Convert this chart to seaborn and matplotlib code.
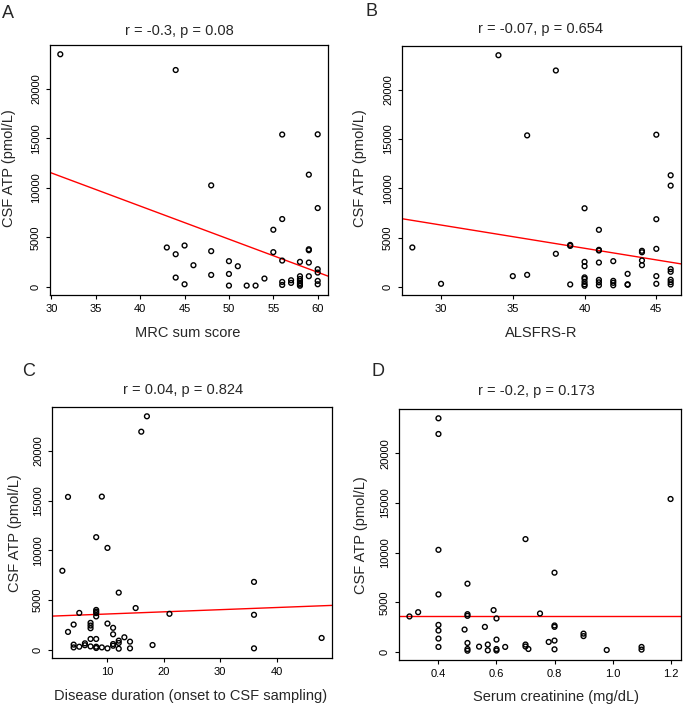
import matplotlib
matplotlib.use("Agg")
import matplotlib.pyplot as plt
import seaborn as sns
import numpy as np
import pandas as pd

# ---------------- data ----------------
mrc = [31, 44, 56, 60, 59, 48, 60, 56, 55,
       43, 44, 45, 48, 46, 50, 51, 44, 48, 50, 45, 50, 52, 53, 54,
       55, 56, 56, 56, 57, 57, 58, 58, 58, 58, 58, 58, 58, 59, 59, 59, 59, 60, 60, 60, 60]
atp_mrc = [23480, 21890, 15380, 15400, 11330, 10250, 7960, 6850, 5770,
           3980, 3300, 4180, 3610, 2190, 2600, 2090, 945, 1210, 1310, 270, 135, 135, 135, 845,
           3510, 2660, 505, 200, 675, 405, 2530, 1080, 800, 600, 400, 250, 120, 3800, 3700, 2460, 1080, 1790, 1450, 610, 270]

alsfrs = [34, 38, 36, 45, 46, 46, 40, 45, 41,
          28, 39, 39, 38, 30, 35, 36, 39,
          40, 40, 40, 40, 40, 40, 40,
          41, 41, 41, 41, 41, 41,
          42, 42, 42, 42,
          43, 43, 43,
          44, 44, 44, 44,
          45, 45, 45,
          46, 46, 46, 46, 46]
atp_alsfrs = [23510, 21960, 15370, 15440, 11320, 10270, 7970, 6860, 5780,
              3990, 4250, 4150, 3345, 300, 1080, 1210, 235,
              2530, 2090, 950, 800, 500, 250, 100,
              3750, 3680, 2460, 700, 450, 150,
              2600, 600, 400, 150,
              1310, 250, 200,
              3650, 3500, 2670, 2190,
              3850, 1080, 300,
              1790, 1520, 710, 470, 230]

duration = [17, 16, 3, 9, 8, 10, 2, 36, 12, 15, 5,
            8, 8, 8, 8,
            21, 3, 4, 7, 7, 7,
            10, 11, 11, 7, 8, 13, 14, 12, 12,
            11, 11, 4, 4, 5, 6, 6, 7, 8, 8,
            9, 10, 12, 14, 18,
            36, 36, 48]
atp_duration = [23480, 21930, 15370, 15400, 11320, 10240, 7940, 6820, 5740, 4190, 3700,
                4000, 3830, 3680, 3345,
                3610, 1790, 2530, 2700, 2430, 2160,
                2630, 2200, 1550, 1080, 1080, 1250, 810, 910, 680,
                570, 400, 510, 230, 300, 640, 450, 330, 300, 170,
                230, 135, 100, 135, 470,
                3510, 135, 1180]

creatinine = [0.4, 0.4, 0.4, 0.4, 0.4, 0.4, 0.4, 0.4,
              1.2, 0.7, 0.8, 0.5, 0.59, 0.33, 0.30, 0.5, 0.5, 0.6, 0.75,
              0.49, 0.5, 0.5, 0.5, 0.54, 0.56, 0.57, 0.57, 0.6, 0.6, 0.6, 0.63, 0.7, 0.7, 0.71,
              0.78, 0.8, 0.8, 0.8, 0.8, 0.9, 0.9, 0.98, 1.1, 1.1]
atp_creat = [23540, 21960, 10290, 5800, 2730, 2160, 1350, 510,
             15410, 11370, 7990, 6880, 4220, 4010, 3580, 3810, 3640, 3380, 3880,
             2260, 910, 300, 130, 540, 2530, 750, 170, 1250, 300, 150, 510, 750, 550, 300,
             1010, 2670, 2530, 1150, 270, 1850, 1600, 200, 510, 240]

# fitted line (intercept, slope)
fit_intercepts = [21520, 13348, 3375, 3676]
fit_slopes = [-334, -236, 21.7, 0.0]

titles = ["r = -0.3, p = 0.08", "r = -0.07, p = 0.654",
          "r = 0.04, p = 0.824", "r = -0.2, p = 0.173"]
xlabels = ["MRC sum score", "ALSFRS-R",
           "Disease duration (onset to CSF sampling)", "Serum creatinine (mg/dL)"]
letters = ["A", "B", "C", "D"]
ylabel = "CSF ATP (pmol/L)"
xticks = [[30, 35, 40, 45, 50, 55, 60], [30, 35, 40, 45],
          [10, 20, 30, 40], [0.4, 0.6, 0.8, 1.0, 1.2]]
xticklabels = [["30", "35", "40", "45", "50", "55", "60"], ["30", "35", "40", "45"],
               ["10", "20", "30", "40"], ["0.4", "0.6", "0.8", "1.0", "1.2"]]
yticks = [0, 5000, 10000, 15000, 20000]
yticklabels = ["0", "5000", "10000", "15000", "20000"]

# ---------------- figure ----------------
sns.set_style("ticks")
plt.rcParams["font.family"] = ["Liberation Sans", "DejaVu Sans"]

W, H = 685, 705
fig = plt.figure(figsize=(W / 100, H / 100), dpi=100)

# axes boxes in pixels: left, top, right, bottom
boxes = [(50, 45, 328, 295), (402, 46, 681, 295),
         (52, 407, 332, 658), (399, 409, 681, 660)]
title_pos = [(179, 31), (540, 29), (183, 390), (536, 391)]
letter_pos = [(8, 13), (371, 12), (29, 371), (378, 371)]
xlabel_pos = [(188, 333), (541, 333), (191, 696), (556, 697)]
ylabel_pos = [(9, 168), (360, 168), (15, 533), (361, 535)]

xs = [mrc, alsfrs, duration, creatinine]
ys = [atp_mrc, atp_alsfrs, atp_duration, atp_creat]


def fx(p):
    return p / W


def fy(p):
    return 1 - p / H


for i in range(4):
    l, t, r, b = boxes[i]
    ax = fig.add_axes([fx(l), fy(b), (r - l) / W, (b - t) / H])
    df = pd.DataFrame({"x": xs[i], "y": ys[i]})
    sns.scatterplot(data=df, x="x", y="y", ax=ax, marker="o", s=12,
                    facecolor="none", edgecolor="black", linewidth=1.0, zorder=3)
    ax.collections[-1].set_facecolor("none")

    xmin, xmax = min(xs[i]), max(xs[i])
    dx = (xmax - xmin) * 0.04
    ymin, ymax = min(ys[i]), max(ys[i])
    dy = (ymax - ymin) * 0.04
    ax.set_xlim(xmin - dx, xmax + dx)
    ax.set_ylim(ymin - dy, ymax + dy)

    ax.axline((0, fit_intercepts[i]), slope=fit_slopes[i], color="#ff0000",
              linewidth=1.0, zorder=2)

    ax.set_xticks(xticks[i])
    ax.set_xticklabels(xticklabels[i])
    ax.set_yticks(yticks)
    ax.set_yticklabels(yticklabels, rotation=90, va="center")
    ax.tick_params(axis="both", direction="out", length=3, width=0.8,
                   labelsize=8, color="black", labelcolor="black", pad=3.5)
    for sp in ax.spines.values():
        sp.set_visible(True)
        sp.set_linewidth(0.9)
        sp.set_color("black")
    ax.set_xlabel("")
    ax.set_ylabel("")

    fig.text(fx(title_pos[i][0]), fy(title_pos[i][1]), titles[i],
             ha="center", va="center", fontsize=10.5)
    fig.text(fx(letter_pos[i][0]), fy(letter_pos[i][1]), letters[i],
             ha="center", va="center", fontsize=13)
    fig.text(fx(xlabel_pos[i][0]), fy(xlabel_pos[i][1]), xlabels[i],
             ha="center", va="center", fontsize=10.5)
    fig.text(fx(ylabel_pos[i][0]), fy(ylabel_pos[i][1]), ylabel,
             ha="center", va="center", fontsize=10.5, rotation=90)

fig.savefig("out.png", dpi=100, facecolor="white")
